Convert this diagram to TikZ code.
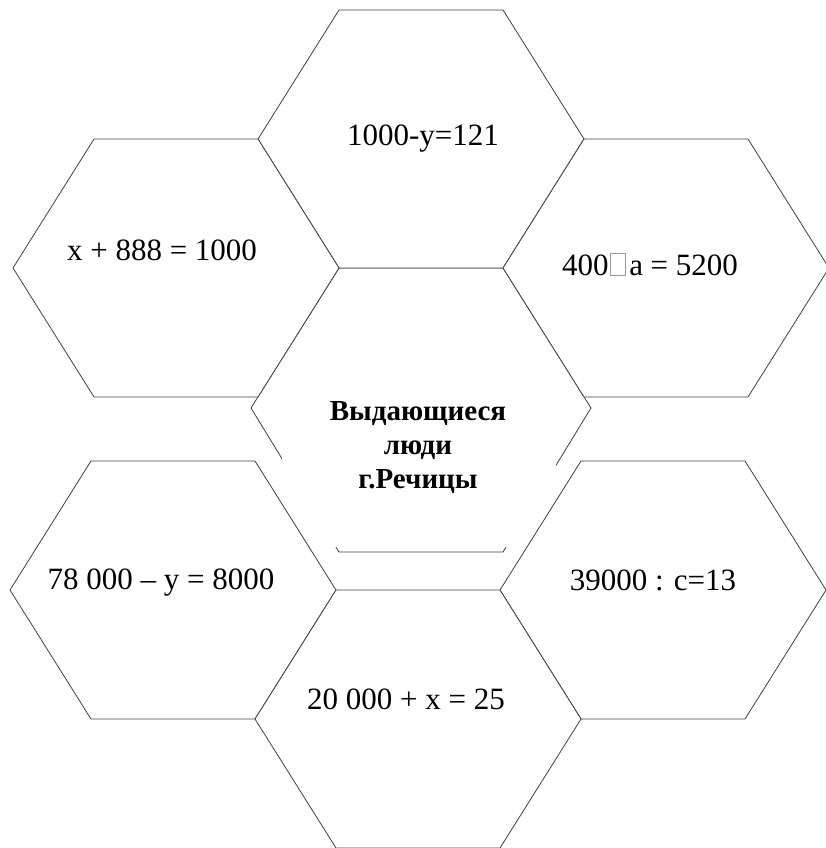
\documentclass[tikz,border=0pt]{standalone}
\usepackage{fontspec}
\setmainfont{Liberation Serif}
\newcommand{\lostglyph}{\hspace{0.06em}{\color{black!40}\setlength{\fboxsep}{0pt}\setlength{\fboxrule}{0.6pt}\fbox{\rule{0pt}{0.68em}\hspace{0.45em}}}\hspace{0.12em}}
\tikzset{
  hexline/.style={draw=black!75,line width=0.8pt,fill=white,line join=miter},
  eqtext/.style={font=\fontsize{31}{36}\selectfont,inner sep=0pt,anchor=base},
  titletext/.style={font=\fontsize{29}{34}\selectfont\bfseries,align=center,inner sep=0pt,anchor=base},
}

\begin{document}
\begin{tikzpicture}[x=1pt,y=-1pt]
  \useasboundingbox (0,0) rectangle (825,848);
  % middle hexagon, its white text box hides part of the rim
  \filldraw[hexline] (251,408) -- (339,268) -- (503,268) -- (591,408) -- (503,552) -- (339,552) -- cycle;
  \fill[white] (282,372) rectangle (556,547);
  % the six hexagons round it
  \foreach \cx/\cy in {421/139,176/268,666/268,173/590,663/590,418/719}{
    \filldraw[hexline] (\cx-163,\cy) -- (\cx-82,\cy-129) -- (\cx+82,\cy-129) --
      (\cx+163,\cy) -- (\cx+82,\cy+129) -- (\cx-82,\cy+129) -- cycle;
  }
  \node[eqtext] (eqtop) at (423,145) {1000-y=121};
  \node[eqtext] (eqleft) at (162,260) {x + 888 = 1000};
  \node[eqtext] (eqright) at (650,275) {400\lostglyph a = 5200};
  \node[eqtext] (eqlowleft) at (161,589) {78 000 -- y = 8000};
  \node[eqtext] (eqlowright) at (653,590) {39000 : c=13};
  \node[eqtext] (eqbottom) at (406,709) {20 000 + x = 25};
  \node[titletext] (title) at (418,488) {Выдающиеся\\люди\\г.Речицы};
\end{tikzpicture}
\end{document}
